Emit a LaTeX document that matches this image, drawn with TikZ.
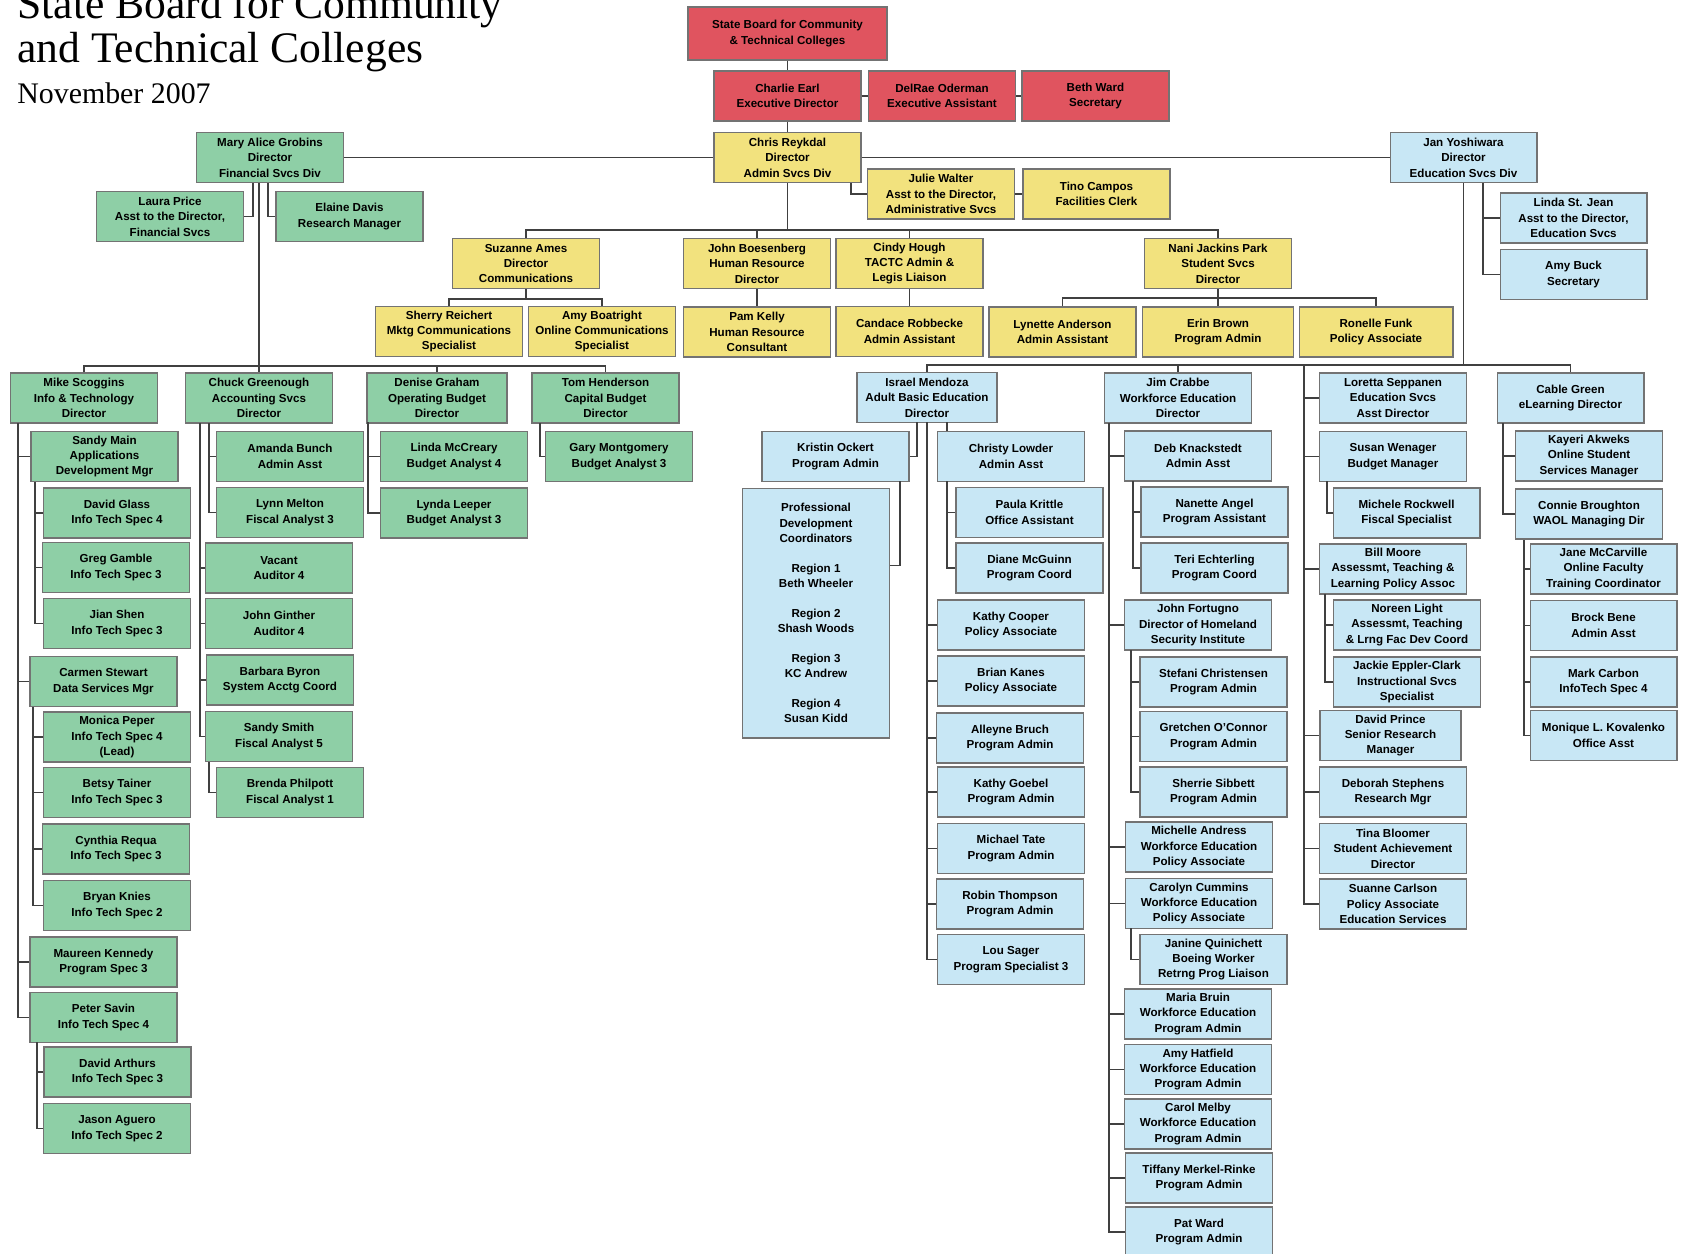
\documentclass[tikz,border=0pt]{standalone}
\usepackage{fontspec}
\setsansfont{Liberation Sans}
\newfontfamily\titlefont{Liberation Serif}
\usetikzlibrary{calc}

\definecolor{boardred}{HTML}{E0545F}
\definecolor{adminyel}{HTML}{F2E27E}
\definecolor{fingreen}{HTML}{8ECFA6}
\definecolor{edublue}{HTML}{C8E7F5}

\tikzset{
    post/.style={draw=black!55, line width=0.6pt, minimum width=2.94cm, minimum height=1cm,
        inner sep=0pt, align=center, font=\sffamily\bfseries\fontsize{6.6}{8.8}\selectfont},
    board/.style={post, fill=boardred},
    admin/.style={post, fill=adminyel},
    fin/.style={post, fill=fingreen},
    edu/.style={post, fill=edublue},
    link/.style={draw=black!75, line width=0.7pt},
    headline/.style={anchor=base west, inner sep=0pt}
}

\begin{document}
\begin{tikzpicture}[x=0.02cm, y=-0.02cm]
    \useasboundingbox (0,0) rectangle (1681,1254);

    \node[headline, font=\titlefont\fontsize{24.8}{26}\selectfont] (title1) at (17,18) {State Board for Community};
    \node[headline, font=\titlefont\fontsize{24.8}{26}\selectfont] (title2) at (17,62) {and Technical Colleges};
    \node[headline, font=\titlefont\fontsize{17}{18}\selectfont] (date) at (17,103) {November 2007};

    % board
    \node[board, minimum width=3.98cm, minimum height=1.06cm] (sbctc) at (787.5,33.5) {State Board for Community\\\& Technical Colleges};
    \node[board] (charlie) at (787.5,96) {Charlie Earl\\Executive Director};
    \node[board] (delrae) at (942,96) {DelRae Oderman\\Executive Assistant};
    \node[board] (beth) at (1095.5,96) {Beth Ward\\Secretary};

    % admin svcs
    \node[admin] (chris) at (787.5,157.5) {Chris Reykdal\\Director\\Admin Svcs Div};
    \node[admin] (julie) at (941,194) {Julie Walter\\Asst to the Director,\\Administrative Svcs};
    \node[admin] (tino) at (1096.5,194) {Tino Campos\\Facilities Clerk};
    \node[admin] (suzanne) at (526,263.5) {Suzanne Ames\\Director\\Communications};
    \node[admin] (johnb) at (757,263.5) {John Boesenberg\\Human Resource\\Director};
    \node[admin] (cindy) at (909.5,263.5) {Cindy Hough\\TACTC Admin \&\\Legis Liaison};
    \node[admin] (nani) at (1218,263.5) {Nani Jackins Park\\Student Svcs\\Director};
    \node[admin] (sherry) at (449,331.5) {Sherry Reichert\\Mktg Communications\\Specialist};
    \node[admin] (amybo) at (602,331.5) {Amy Boatright\\Online Communications\\Specialist};
    \node[admin] (pam) at (757,332) {Pam Kelly\\Human Resource\\Consultant};
    \node[admin] (candace) at (909.5,331.5) {Candace Robbecke\\Admin Assistant};
    \node[admin] (lynette) at (1062.5,332) {Lynette Anderson\\Admin Assistant};
    \node[admin, minimum width=3.02cm] (erin) at (1218,332) {Erin Brown\\Program Admin};
    \node[admin, minimum width=3.08cm] (ronelle) at (1376,332) {Ronelle Funk\\Policy Associate};

    % financial svcs
    \node[fin] (mary) at (270,157.5) {Mary Alice Grobins\\Director\\Financial Svcs Div};
    \node[fin] (laura) at (170,216.5) {Laura Price\\Asst to the Director,\\Financial Svcs};
    \node[fin] (elaine) at (349.5,216.5) {Elaine Davis\\Research Manager};
    \node[fin] (mike) at (84,398) {Mike Scoggins\\Info \& Technology\\Director};
    \node[fin] (chuck) at (259,398) {Chuck Greenough\\Accounting Svcs\\Director};
    \node[fin, minimum width=2.8cm] (denise) at (437,398) {Denise Graham\\Operating Budget\\Director};
    \node[fin] (tom) at (605.5,398) {Tom Henderson\\Capital Budget\\Director};
    \node[fin] (sandym) at (104.5,456.5) {Sandy Main\\Applications\\Development Mgr};
    \node[fin] (dglass) at (117,513) {David Glass\\Info Tech Spec 4};
    \node[fin] (ggamble) at (116,567.5) {Greg Gamble\\Info Tech Spec 3};
    \node[fin] (jshen) at (117,623.5) {Jian Shen\\Info Tech Spec 3};
    \node[fin] (carmen) at (103.5,681.5) {Carmen Stewart\\Data Services Mgr};
    \node[fin] (monica) at (117,737) {Monica Peper\\Info Tech Spec 4\\(Lead)};
    \node[fin] (betsy) at (117,792.5) {Betsy Tainer\\Info Tech Spec 3};
    \node[fin] (cynthia) at (116,849) {Cynthia Requa\\Info Tech Spec 3};
    \node[fin] (bryan) at (117,905.5) {Bryan Knies\\Info Tech Spec 2};
    \node[fin] (maureen) at (103.5,962) {Maureen Kennedy\\Program Spec 3};
    \node[fin] (peter) at (103.5,1017.5) {Peter Savin\\Info Tech Spec 4};
    \node[fin] (darthurs) at (117.5,1072) {David Arthurs\\Info Tech Spec 3};
    \node[fin] (jason) at (117,1128.5) {Jason Aguero\\Info Tech Spec 2};
    \node[fin] (amanda) at (290,456.5) {Amanda Bunch\\Admin Asst};
    \node[fin] (lynn) at (290,512.5) {Lynn Melton\\Fiscal Analyst 3};
    \node[fin] (vacant) at (279,568) {Vacant\\Auditor 4};
    \node[fin] (jginther) at (279,623.5) {John Ginther\\Auditor 4};
    \node[fin] (barbara) at (280,680) {Barbara Byron\\System Acctg Coord};
    \node[fin] (sandys) at (279,736.5) {Sandy Smith\\Fiscal Analyst 5};
    \node[fin] (brenda) at (290,792.5) {Brenda Philpott\\Fiscal Analyst 1};
    \node[fin] (lindam) at (454,456.5) {Linda McCreary\\Budget Analyst 4};
    \node[fin] (lyndal) at (454,513) {Lynda Leeper\\Budget Analyst 3};
    \node[fin] (gary) at (619,456.5) {Gary Montgomery\\Budget Analyst 3};

    % education svcs
    \node[edu] (jan) at (1463.5,157.5) {Jan Yoshiwara\\Director\\Education Svcs Div};
    \node[edu] (linda) at (1573.5,218) {Linda St. Jean\\Asst to the Director,\\Education Svcs};
    \node[edu] (amybu) at (1573.5,274.5) {Amy Buck\\Secretary};
    \node[edu, minimum width=2.8cm] (israel) at (927,397.5) {Israel Mendoza\\Adult Basic Education\\Director};
    \node[edu] (kristin) at (835.5,456.5) {Kristin Ockert\\Program Admin};
    \node[edu, minimum height=5cm] (pdc) at (816,613) {Professional\\Development\\Coordinators\\[8pt]Region 1\\Beth Wheeler\\[8pt]Region 2\\Shash Woods\\[8pt]Region 3\\KC Andrew\\[8pt]Region 4\\Susan Kidd};
    \node[edu] (christy) at (1011,456.5) {Christy Lowder\\Admin Asst};
    \node[edu] (paula) at (1029.5,512.5) {Paula Krittle\\Office Assistant};
    \node[edu] (diane) at (1029.5,568) {Diane McGuinn\\Program Coord};
    \node[edu] (kcooper) at (1011,625) {Kathy Cooper\\Policy Associate};
    \node[edu] (bkanes) at (1011,681) {Brian Kanes\\Policy Associate};
    \node[edu] (alleyne) at (1010,738) {Alleyne Bruch\\Program Admin};
    \node[edu] (kgoebel) at (1011,792) {Kathy Goebel\\Program Admin};
    \node[edu] (mtate) at (1011,848.5) {Michael Tate\\Program Admin};
    \node[edu] (robin) at (1010,904) {Robin Thompson\\Program Admin};
    \node[edu] (lou) at (1011,959.5) {Lou Sager\\Program Specialist 3};
    \node[edu] (jim) at (1178,398) {Jim Crabbe\\Workforce Education\\Director};
    \node[edu] (deb) at (1198,456) {Deb Knackstedt\\Admin Asst};
    \node[edu] (nanette) at (1214.5,512) {Nanette Angel\\Program Assistant};
    \node[edu] (teri) at (1214.5,568) {Teri Echterling\\Program Coord};
    \node[edu] (johnf) at (1198,625) {John Fortugno\\Director of Homeland\\Security Institute};
    \node[edu] (stefani) at (1213.5,682) {Stefani Christensen\\Program Admin};
    \node[edu] (gretchen) at (1213.5,736.5) {Gretchen O'Connor\\Program Admin};
    \node[edu] (sherrie) at (1213.5,792) {Sherrie Sibbett\\Program Admin};
    \node[edu] (michelle) at (1199,847) {Michelle Andress\\Workforce Education\\Policy Associate};
    \node[edu] (carolyn) at (1199,903.5) {Carolyn Cummins\\Workforce Education\\Policy Associate};
    \node[edu] (janine) at (1213.5,959.5) {Janine Quinichett\\Boeing Worker\\Retrng Prog Liaison};
    \node[edu] (maria) at (1198,1014) {Maria Bruin\\Workforce Education\\Program Admin};
    \node[edu] (amyh) at (1198,1069.5) {Amy Hatfield\\Workforce Education\\Program Admin};
    \node[edu] (carol) at (1198,1124) {Carol Melby\\Workforce Education\\Program Admin};
    \node[edu] (tiffany) at (1199,1178) {Tiffany Merkel-Rinke\\Program Admin};
    \node[edu] (pat) at (1199,1232) {Pat Ward\\Program Admin};
    \node[edu] (loretta) at (1393,398) {Loretta Seppanen\\Education Svcs\\Asst Director};
    \node[edu] (susan) at (1393,456.5) {Susan Wenager\\Budget Manager};
    \node[edu] (michele) at (1406.5,513) {Michele Rockwell\\Fiscal Specialist};
    \node[edu] (bill) at (1393,569) {Bill Moore\\Assessmt, Teaching \&\\Learning Policy Assoc};
    \node[edu] (noreen) at (1407,625) {Noreen Light\\Assessmt, Teaching\\\& Lrng Fac Dev Coord};
    \node[edu] (jackie) at (1407,682) {Jackie Eppler-Clark\\Instructional Svcs\\Specialist};
    \node[edu, minimum width=2.82cm] (dprince) at (1390.5,735.5) {David Prince\\Senior Research\\Manager};
    \node[edu] (deborah) at (1393,792) {Deborah Stephens\\Research Mgr};
    \node[edu] (tina) at (1393,848.5) {Tina Bloomer\\Student Achievement\\Director};
    \node[edu] (suanne) at (1393,904) {Suanne Carlson\\Policy Associate\\Education Services};
    \node[edu] (cable) at (1570.5,398) {Cable Green\\eLearning Director};
    \node[edu] (kayeri) at (1589,456) {Kayeri Akweks\\Online Student\\Services Manager};
    \node[edu] (connie) at (1589,514) {Connie Broughton\\WAOL Managing Dir};
    \node[edu] (jane) at (1603.5,569) {Jane McCarville\\Online Faculty\\Training Coordinator};
    \node[edu] (brock) at (1603.5,625.5) {Brock Bene\\Admin Asst};
    \node[edu] (mark) at (1603.5,682) {Mark Carbon\\InfoTech Spec 4};
    \node[edu] (monique) at (1603.5,735.5) {Monique L. Kovalenko\\Office Asst};

    % bars and trunks
    \coordinate (adminbar) at (0,230);
    \coordinate (commbar) at (0,299);
    \coordinate (studbar) at (0,298);
    \coordinate (finbar) at (0,366);
    \coordinate (edubar) at (0,365);
    \coordinate (maryL) at (253,183);
    \coordinate (maryR) at (268,183);
    \coordinate (chrisJ) at (851,183);
    \coordinate (janT) at (1483,183);
    \coordinate (mikeT) at (18,423);
    \coordinate (sandymT) at (35,482);
    \coordinate (carmenT) at (33,707);
    \coordinate (peterT) at (37,1042);
    \coordinate (chuckT) at (200,423);
    \coordinate (chuckA) at (209,423);
    \coordinate (sandysT) at (209,762);
    \coordinate (deniseT) at (368,422);
    \coordinate (tomT) at (540,423);
    \coordinate (israelK) at (917,422);
    \coordinate (kristinP) at (900,481);
    \coordinate (israelT) at (927,422);
    \coordinate (israelC) at (947,422);
    \coordinate (christyT) at (947,481);
    \coordinate (jimT) at (1109,423);
    \coordinate (debT) at (1133,481);
    \coordinate (johnfT) at (1131,650);
    \coordinate (carolynT) at (1131,928);
    \coordinate (lorettaT) at (1304,365);
    \coordinate (susanT) at (1327,481);
    \coordinate (billT) at (1325,594);
    \coordinate (cableT) at (1503,423);
    \coordinate (connieT) at (1524,540);

    \draw[link] (sbctc) -- (charlie);
    \draw[link] (charlie) -- (delrae) -- (beth);
    \draw[link] (charlie) -- (chris);
    \draw[link] (mary) -- (chris) -- (jan);
    \draw[link] (chrisJ) |- (julie.west);
    \draw[link] (julie) -- (tino);

    \draw[link] (chris.south) -- (chris.south |- adminbar);
    \draw[link] (suzanne.north) |- (nani.north |- adminbar) -- (nani.north);
    \foreach \kid in {johnb,cindy}
        \draw[link] (\kid.north) -- (\kid.north |- adminbar);
    \draw[link] (johnb) -- (pam);
    \draw[link] (cindy) -- (candace);
    \draw[link] (suzanne.south) -- (suzanne.south |- commbar);
    \draw[link] (sherry.north) |- (amybo.north |- commbar) -- (amybo.north);
    \draw[link] (nani) -- (erin);
    \draw[link] (lynette.north) |- (ronelle.north |- studbar) -- (ronelle.north);

    \draw[link] (maryL) |- (laura.east);
    \draw[link] (maryR) |- (elaine.west);
    \draw[link] (mary.south -| chuck.north) -- (chuck.north);
    \draw[link] (mike.north) |- (tom.north |- finbar) -- (tom.north);
    \draw[link] (denise.north) -- (denise.north |- finbar);
    \foreach \kid in {sandym,carmen,maureen,peter}
        \draw[link] (mikeT) |- (\kid.west);
    \foreach \kid in {dglass,ggamble,jshen}
        \draw[link] (sandymT) |- (\kid.west);
    \foreach \kid in {monica,betsy,cynthia,bryan}
        \draw[link] (carmenT) |- (\kid.west);
    \foreach \kid in {darthurs,jason}
        \draw[link] (peterT) |- (\kid.west);
    \foreach \kid in {vacant,jginther,barbara,sandys}
        \draw[link] (chuckT) |- (\kid.west);
    \foreach \kid in {amanda,lynn}
        \draw[link] (chuckA) |- (\kid.west);
    \draw[link] (sandysT) |- (brenda.west);
    \foreach \kid in {lindam,lyndal}
        \draw[link] (deniseT) |- (\kid.west);
    \draw[link] (tomT) |- (gary.west);

    \draw[link] (jan.south) -- (jan.south |- edubar);
    \draw[link] (israel.north) |- (cable.north |- edubar) -- (cable.north);
    \draw[link] (jim.north) -- (jim.north |- edubar);
    \foreach \kid in {linda,amybu}
        \draw[link] (janT) |- (\kid.west);
    \draw[link] (israelK) |- (kristin.east);
    \draw[link] (kristinP) |- ($(pdc.north east)!0.31!(pdc.south east)$);
    \draw[link] (israelC) -- (israelC |- christy.north);
    \foreach \kid in {paula,diane}
        \draw[link] (christyT) |- (\kid.west);
    \foreach \kid in {kcooper,bkanes,alleyne,kgoebel,mtate,robin,lou}
        \draw[link] (israelT) |- (\kid.west);
    \foreach \kid in {deb,johnf,michelle,carolyn,maria,amyh,carol,tiffany,pat}
        \draw[link] (jimT) |- (\kid.west);
    \foreach \kid in {nanette,teri}
        \draw[link] (debT) |- (\kid.west);
    \foreach \kid in {stefani,gretchen,sherrie}
        \draw[link] (johnfT) |- (\kid.west);
    \draw[link] (carolynT) |- (janine.west);
    \foreach \kid in {loretta,susan,bill,dprince,deborah,tina,suanne}
        \draw[link] (lorettaT) |- (\kid.west);
    \draw[link] (susanT) |- (michele.west);
    \foreach \kid in {noreen,jackie}
        \draw[link] (billT) |- (\kid.west);
    \foreach \kid in {kayeri,connie}
        \draw[link] (cableT) |- (\kid.west);
    \foreach \kid in {jane,brock,mark,monique}
        \draw[link] (connieT) |- (\kid.west);
\end{tikzpicture}
\end{document}
